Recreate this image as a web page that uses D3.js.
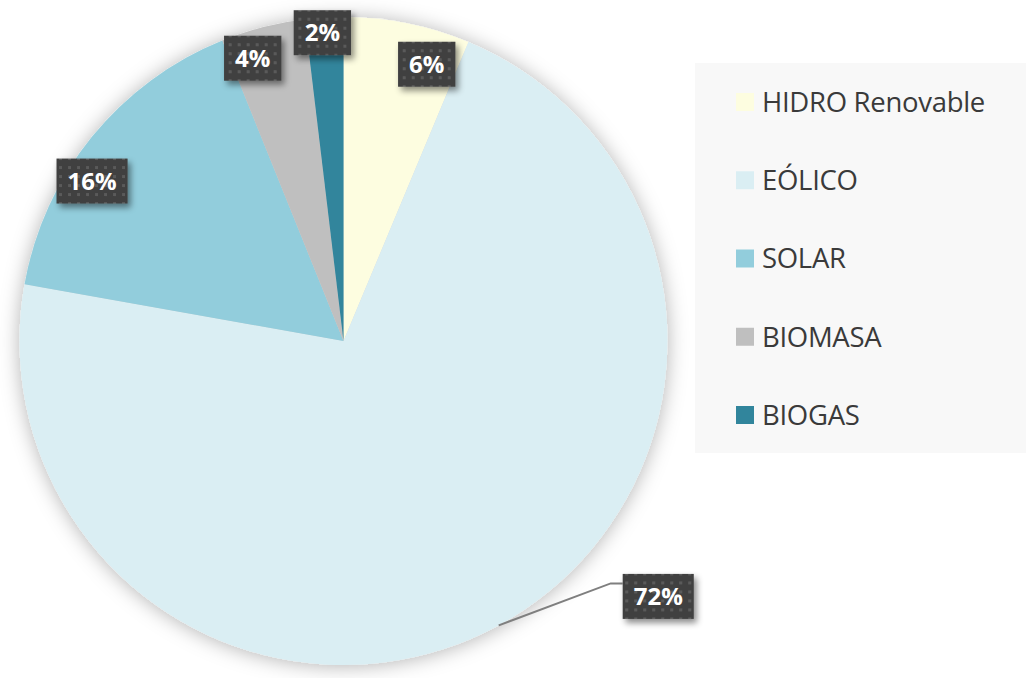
<!DOCTYPE html>
<html lang="es">
<head>
<meta charset="utf-8">
<title>Renovables</title>
<script src="https://d3js.org/d3.v7.min.js"></script>
<style>
  body { margin: 0; background: #fff; }
  svg { display: block; }
</style>
</head>
<body>
<div id="chart"></div>
<script>
// data
var categories = ["HIDRO Renovable", "EÓLICO", "SOLAR", "BIOMASA", "BIOGAS"];
var shares = [6.3, 71.5, 16.1, 4.2, 1.9];
var labels = ["6%", "72%", "16%", "4%", "2%"];
var colors = ["#fdfde0", "#daeef3", "#92cddc", "#bfbfbf", "#31859c"];
var outside = [false, true, false, false, false]; // only the big slice uses a leader line

// label placement tweaks (excel "best fit" pushes the small ones apart)
var labelRadius = [289, 0, 298, 297, 309];
var labelShiftDeg = [5.4, 0, -6.6, -3.4, -0.5];

var W = 1026, H = 678;
var cx = 343.5, cy = 341, R = 324;

var svg = d3.select("#chart").append("svg").attr("width", W).attr("height", H);
var defs = svg.append("defs");

// soft shadow around the pie
var f1 = defs.append("filter").attr("id", "pieShadow")
  .attr("x", "-20%").attr("y", "-20%").attr("width", "140%").attr("height", "140%");
f1.append("feDropShadow").attr("dx", 0).attr("dy", 1).attr("stdDeviation", 10)
  .attr("flood-color", "#000").attr("flood-opacity", 0.3);

// shadow under the label boxes
var f2 = defs.append("filter").attr("id", "boxShadow")
  .attr("x", "-30%").attr("y", "-30%").attr("width", "170%").attr("height", "170%");
f2.append("feDropShadow").attr("dx", 3).attr("dy", 4).attr("stdDeviation", 3)
  .attr("flood-color", "#000").attr("flood-opacity", 0.45);

// dotted dark fill of the labels
var pat = defs.append("pattern").attr("id", "dots").attr("patternUnits", "userSpaceOnUse")
  .attr("width", 9).attr("height", 9);
pat.append("rect").attr("width", 9).attr("height", 9).attr("fill", "#404040");
pat.append("rect").attr("x", 3).attr("y", 3).attr("width", 3).attr("height", 3).attr("fill", "#5a5a5a");

// legend panel
var legend = svg.append("g");
legend.append("rect").attr("x", 695).attr("y", 63).attr("width", 331).attr("height", 390).attr("fill", "#f8f8f8");

var ly = d3.scalePoint().domain(categories).range([102, 415]);
var item = legend.selectAll("g.item").data(categories).enter().append("g").attr("class", "item")
  .attr("transform", function(d) { return "translate(736," + ly(d) + ")"; });
item.append("rect").attr("x", 0).attr("y", -9).attr("width", 18).attr("height", 18)
  .attr("fill", function(d, i) { return colors[i]; });
item.append("text").attr("x", 26).attr("y", 0).attr("dy", "0.36em")
  .attr("font-family", "'Open Sans', sans-serif").attr("font-size", 27.5)
  .attr("letter-spacing", -0.3).attr("fill", "#3a3a3a").text(function(d) { return d; });

// pie
var pie = d3.pie().sort(null).value(function(d) { return d; });
var arcs = pie(shares);
var arc = d3.arc().innerRadius(0).outerRadius(R);

var g = svg.append("g").attr("transform", "translate(" + cx + "," + cy + ")");
g.append("g").attr("filter", "url(#pieShadow)")
  .selectAll("path").data(arcs).enter().append("path")
  .attr("d", arc).attr("fill", function(d, i) { return colors[i]; });

// leader line for outside labels
var leaderPts = {};
arcs.forEach(function(a, i) {
  if (!outside[i]) return;
  var mid = (a.startAngle + a.endAngle) / 2;
  var p0 = [Math.sin(mid) * R, -Math.cos(mid) * R];
  var p1 = [p0[0] + 112, p0[1] - 42];
  var p2 = [p1[0] + 12, p1[1]];
  leaderPts[i] = p2;
  g.append("polyline").attr("points", [p0, p1, p2].map(function(p) { return p.join(","); }).join(" "))
    .attr("fill", "none").attr("stroke", "#7f7f7f").attr("stroke-width", 2);
});

var lab = g.selectAll("g.lab").data(arcs).enter().append("g").attr("class", "lab");
lab.each(function(d, i) {
  var sel = d3.select(this);
  var t = sel.append("text").attr("font-family", "'Open Sans', sans-serif").attr("font-weight", 700)
    .attr("font-size", 24).attr("fill", "#fff").attr("text-anchor", "middle").attr("dy", "0.36em")
    .text(labels[i]);
  var w = t.node().getComputedTextLength() + 22, h = 45;
  var c;
  if (outside[i]) {
    var p = leaderPts[i];
    c = [p[0] + w / 2, p[1] + 13];
  } else {
    var mid = (d.startAngle + d.endAngle) / 2 + labelShiftDeg[i] * Math.PI / 180;
    c = [Math.sin(mid) * labelRadius[i], -Math.cos(mid) * labelRadius[i]];
  }
  sel.attr("transform", "translate(" + c[0] + "," + c[1] + ")");
  sel.insert("rect", "text").attr("x", -w / 2).attr("y", -h / 2).attr("width", w).attr("height", h)
    .attr("fill", "url(#dots)").attr("filter", "url(#boxShadow)");
});
</script>
</body>
</html>
